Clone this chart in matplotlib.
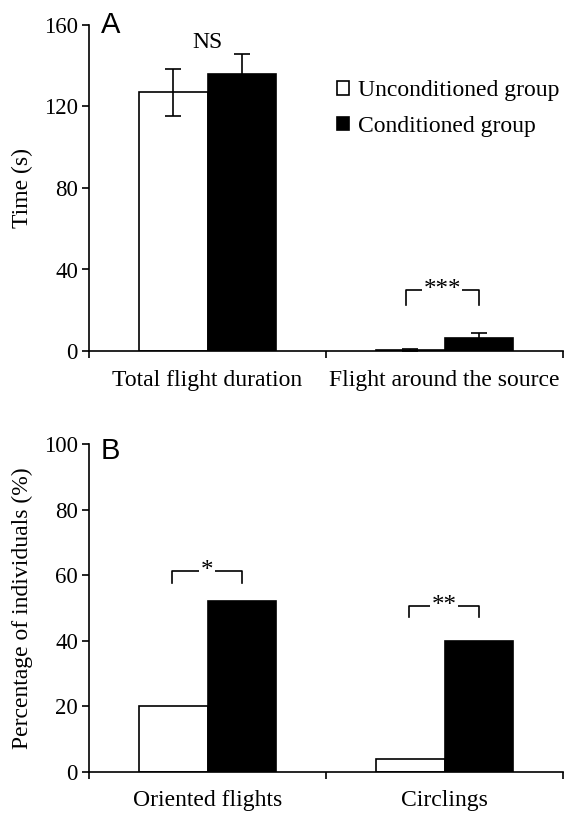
import numpy as np
import matplotlib.pyplot as plt

plt.rcParams['font.family'] = ['Liberation Serif', 'DejaVu Serif']

# panel A: flight times (s)
cats_a = ['Total flight duration', 'Flight around the source']
uncond_a = [127, 0.5]
uncond_err_a = [11.5, 0.3]
cond_a = [136, 6.5]
cond_err_a = [10, 2.5]

# panel B: percentage of individuals
cats_b = ['Oriented flights', 'Circlings']
uncond_b = [20, 4]
cond_b = [52, 40]

labels = ['Unconditioned group', 'Conditioned group']

W, H = 565, 813
fig = plt.figure(figsize=(W / 100, H / 100), dpi=100)
ax_a = fig.add_axes([89 / W, 1 - 351 / H, 474 / W, 326 / H])
ax_b = fig.add_axes([89 / W, 1 - 772 / H, 474 / W, 328 / H])

bw = 0.287
fs = 17


def style(ax, cats, ymax, ystep, xpad):
    ax.set_xlim(0, 2)
    ax.set_ylim(0, ymax)
    ax.set_yticks(np.arange(0, ymax + 1, ystep))
    ax.set_xticks([0, 1, 2])
    ax.set_xticklabels([])
    ax.set_xticks([0.5, 1.5], minor=True)
    ax.set_xticklabels(cats, minor=True, fontsize=fs)
    ax.tick_params(axis='x', which='minor', length=0, pad=xpad)
    ax.tick_params(axis='x', which='major', length=5, width=1.2, direction='out')
    ax.tick_params(axis='y', length=5, width=1.2, labelsize=16.5, pad=3)
    for s in ['top', 'right']:
        ax.spines[s].set_visible(False)
    for s in ['left', 'bottom']:
        ax.spines[s].set_linewidth(1.2)


def bracket(ax, x0, x1, top, leg, text):
    ax.plot([x0, x0, x1, x1], [leg, top, top, leg], color='black', lw=1.2,
            clip_on=False)
    ax.text((x0 + x1) / 2, top, text, ha='center', va='center', fontsize=18,
            bbox=dict(fc='white', ec='none', pad=1))


x = np.array([0.5, 1.5])

# panel A
ax_a.bar(x - bw / 2, uncond_a, bw, color='white', edgecolor='black', lw=1.2,
         label=labels[0], zorder=2)
ax_a.bar(x + bw / 2, cond_a, bw, color='black', edgecolor='black', lw=1.2,
         label=labels[1], zorder=2)
ax_a.errorbar(x - bw / 2, uncond_a, yerr=uncond_err_a, fmt='none', ecolor='black',
              elinewidth=1.2, capsize=6, capthick=1.2, zorder=3)
ax_a.errorbar(x + bw / 2, cond_a, yerr=cond_err_a, fmt='none', ecolor='black',
              elinewidth=1.2, capsize=6, capthick=1.2, zorder=3)
style(ax_a, cats_a, 160, 40, 14)
ax_a.set_ylabel('Time (s)', fontsize=fs, labelpad=8)
ax_a.text(0.5, 151.5, 'NS', ha='center', va='center', fontsize=fs)
bracket(ax_a, 1.5 - bw / 2 - 0.02, 1.5 + bw / 2, 30, 22.5, '***')
ax_a.legend(loc='upper left', bbox_to_anchor=(0.478, 0.895), frameon=False,
            fontsize=fs, handlelength=0.5, handleheight=0.5,
            handletextpad=0.4, labelspacing=0.6)
ax_a.text(0.05, 160, 'A', fontsize=21, family='Liberation Sans', va='center')

# panel B
ax_b.bar(x - bw / 2, uncond_b, bw, color='white', edgecolor='black', lw=1.2, zorder=2)
ax_b.bar(x + bw / 2, cond_b, bw, color='black', edgecolor='black', lw=1.2, zorder=2)
style(ax_b, cats_b, 100, 20, 13)
ax_b.set_ylabel('Percentage of individuals (%)', fontsize=fs, labelpad=8)
bracket(ax_b, 0.5 - bw / 2 - 0.005, 0.5 + bw / 2, 61.3, 57.6, '*')
bracket(ax_b, 1.5 - bw / 2 - 0.005, 1.5 + bw / 2, 50.6, 47.3, '**')
ax_b.text(0.05, 98, 'B', fontsize=21, family='Liberation Sans', va='center')

fig.savefig('out.png', dpi=100)
